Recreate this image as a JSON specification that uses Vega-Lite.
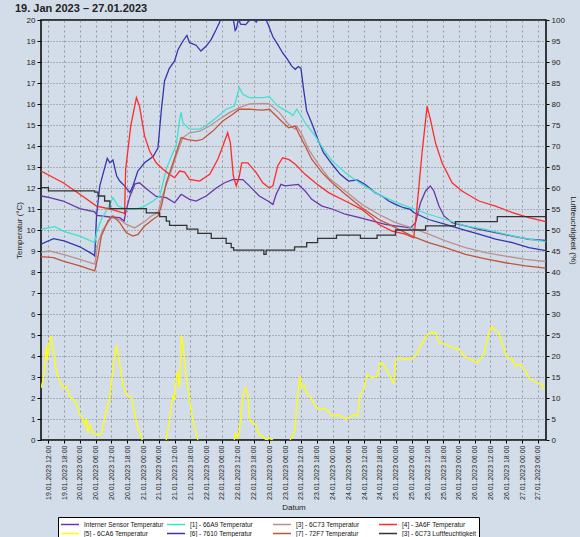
{
"$schema":"https://vega.github.io/schema/vega-lite/v6.json",
"autosize":{"type":"none"},
"padding":{"left":41,"top":20,"right":34,"bottom":97},
"width":505,"height":420,
"background":"#d3dde9",
"title":{"text":"19. Jan 2023 – 27.01.2023","anchor":"start","frame":"group","dx":-26,"offset":2,"fontSize":11,"fontWeight":"bold","font":"Liberation Sans","color":"#222"},
"config":{
"font":"Liberation Sans",
"view":{"stroke":"#000","strokeWidth":1.5},
"axis":{"labelFontSize":8,"titleFontSize":8,"labelColor":"#222","titleColor":"#222","titleFontWeight":"normal","tickColor":"#000","domain":false},
"legend":{"direction":"horizontal","columns":4,"fillColor":"#ffffff","strokeColor":"#000","padding":2,"symbolType":"M-1,0H3","symbolSize":81,"symbolStrokeWidth":1.5,"labelFontSize":6.5,"labelColor":"#111","rowPadding":0,"columnPadding":0,"labelOffset":13}
},
"data":{"values":[
{"s":"6","t":"2023-01-19T09:15","v":9.32},{"s":"6","t":"2023-01-19T14:00","v":9.59},{"s":"6","t":"2023-01-19T18:00","v":9.48},{"s":"6","t":"2023-01-20T00:00","v":9.2},{"s":"6","t":"2023-01-20T05:00","v":8.84},{"s":"6","t":"2023-01-20T05:40","v":8.76},{"s":"6","t":"2023-01-20T06:20","v":10.67},{"s":"6","t":"2023-01-20T07:35","v":12.1},{"s":"6","t":"2023-01-20T10:25","v":13.41},{"s":"6","t":"2023-01-20T11:25","v":13.2},{"s":"6","t":"2023-01-20T12:35","v":13.33},{"s":"6","t":"2023-01-20T14:00","v":12.57},{"s":"6","t":"2023-01-20T15:10","v":12.33},{"s":"6","t":"2023-01-20T17:00","v":12.1},{"s":"6","t":"2023-01-20T19:00","v":11.78},{"s":"6","t":"2023-01-20T20:10","v":12.1},{"s":"6","t":"2023-01-20T22:00","v":12.8},{"s":"6","t":"2023-01-21T00:35","v":13.2},{"s":"6","t":"2023-01-21T03:50","v":13.5},{"s":"6","t":"2023-01-21T05:40","v":13.9},{"s":"6","t":"2023-01-21T07:00","v":15.75},{"s":"6","t":"2023-01-21T08:10","v":17.1},{"s":"6","t":"2023-01-21T10:00","v":17.7},{"s":"6","t":"2023-01-21T12:00","v":18.05},{"s":"6","t":"2023-01-21T13:20","v":18.6},{"s":"6","t":"2023-01-21T15:10","v":19.0},{"s":"6","t":"2023-01-21T16:40","v":19.27},{"s":"6","t":"2023-01-21T17:40","v":18.92},{"s":"6","t":"2023-01-21T20:10","v":18.8},{"s":"6","t":"2023-01-21T22:00","v":18.52},{"s":"6","t":"2023-01-22T00:00","v":18.76},{"s":"6","t":"2023-01-22T01:55","v":19.08},{"s":"6","t":"2023-01-22T03:50","v":19.56},{"s":"6","t":"2023-01-22T05:00","v":19.87},{"s":"6","t":"2023-01-22T06:00","v":20.2},{"s":"6","t":"2023-01-22T10:00","v":20.3},{"s":"6","t":"2023-01-22T11:00","v":19.5},{"s":"6","t":"2023-01-22T11:30","v":19.6},{"s":"6","t":"2023-01-22T12:20","v":20.1},{"s":"6","t":"2023-01-22T13:00","v":19.8},{"s":"6","t":"2023-01-22T15:00","v":19.78},{"s":"6","t":"2023-01-22T16:30","v":20.0},{"s":"6","t":"2023-01-22T17:30","v":20.2},{"s":"6","t":"2023-01-22T19:00","v":19.9},{"s":"6","t":"2023-01-22T20:30","v":20.2},{"s":"6","t":"2023-01-22T22:00","v":20.2},{"s":"6","t":"2023-01-22T23:30","v":19.8},{"s":"6","t":"2023-01-23T01:20","v":19.2},{"s":"6","t":"2023-01-23T03:10","v":18.84},{"s":"6","t":"2023-01-23T05:00","v":18.44},{"s":"6","t":"2023-01-23T07:00","v":18.1},{"s":"6","t":"2023-01-23T08:30","v":17.8},{"s":"6","t":"2023-01-23T09:50","v":17.65},{"s":"6","t":"2023-01-23T11:00","v":17.78},{"s":"6","t":"2023-01-23T12:00","v":17.7},{"s":"6","t":"2023-01-23T13:00","v":16.7},{"s":"6","t":"2023-01-23T14:10","v":15.67},{"s":"6","t":"2023-01-23T16:05","v":15.1},{"s":"6","t":"2023-01-23T18:40","v":14.24},{"s":"6","t":"2023-01-23T20:35","v":13.68},{"s":"6","t":"2023-01-23T23:50","v":13.13},{"s":"6","t":"2023-01-24T02:55","v":12.65},{"s":"6","t":"2023-01-24T06:05","v":12.33},{"s":"6","t":"2023-01-24T09:20","v":12.38},{"s":"6","t":"2023-01-24T12:25","v":12.17},{"s":"6","t":"2023-01-24T16:10","v":11.78},{"s":"6","t":"2023-01-24T18:50","v":11.62},{"s":"6","t":"2023-01-24T21:20","v":11.38},{"s":"6","t":"2023-01-24T23:55","v":11.22},{"s":"6","t":"2023-01-25T03:00","v":11.06},{"s":"6","t":"2023-01-25T05:35","v":10.98},{"s":"6","t":"2023-01-25T06:50","v":10.83},{"s":"6","t":"2023-01-25T12:30","v":10.5},{"s":"6","t":"2023-01-25T18:55","v":10.27},{"s":"6","t":"2023-01-26T01:10","v":10.03},{"s":"6","t":"2023-01-26T07:35","v":9.8},{"s":"6","t":"2023-01-26T13:55","v":9.56},{"s":"6","t":"2023-01-26T20:20","v":9.4},{"s":"6","t":"2023-01-27T02:35","v":9.16},{"s":"6","t":"2023-01-27T09:00","v":9.02},

{"s":"I","t":"2023-01-19T09:15","v":11.62},{"s":"I","t":"2023-01-19T12:35","v":11.54},{"s":"I","t":"2023-01-19T17:40","v":11.38},{"s":"I","t":"2023-01-20T00:00","v":11.02},{"s":"I","t":"2023-01-20T05:40","v":10.86},{"s":"I","t":"2023-01-20T06:30","v":10.7},{"s":"I","t":"2023-01-20T11:25","v":10.62},{"s":"I","t":"2023-01-20T15:10","v":10.59},{"s":"I","t":"2023-01-20T16:50","v":10.43},{"s":"I","t":"2023-01-20T17:30","v":10.9},{"s":"I","t":"2023-01-20T19:00","v":11.6},{"s":"I","t":"2023-01-20T21:00","v":12.2},{"s":"I","t":"2023-01-20T22:40","v":12.25},{"s":"I","t":"2023-01-21T01:30","v":11.94},{"s":"I","t":"2023-01-21T05:00","v":11.6},{"s":"I","t":"2023-01-21T08:50","v":11.54},{"s":"I","t":"2023-01-21T12:00","v":11.3},{"s":"I","t":"2023-01-21T14:30","v":11.7},{"s":"I","t":"2023-01-21T17:40","v":11.46},{"s":"I","t":"2023-01-21T20:10","v":11.38},{"s":"I","t":"2023-01-22T00:00","v":11.62},{"s":"I","t":"2023-01-22T03:50","v":12.0},{"s":"I","t":"2023-01-22T07:00","v":12.25},{"s":"I","t":"2023-01-22T10:00","v":12.4},{"s":"I","t":"2023-01-22T13:55","v":12.4},{"s":"I","t":"2023-01-22T16:25","v":12.1},{"s":"I","t":"2023-01-22T20:10","v":11.62},{"s":"I","t":"2023-01-22T23:25","v":11.38},{"s":"I","t":"2023-01-23T01:20","v":11.22},{"s":"I","t":"2023-01-23T02:35","v":11.7},{"s":"I","t":"2023-01-23T04:25","v":12.17},{"s":"I","t":"2023-01-23T06:00","v":12.1},{"s":"I","t":"2023-01-23T11:00","v":12.17},{"s":"I","t":"2023-01-23T13:35","v":11.86},{"s":"I","t":"2023-01-23T16:05","v":11.46},{"s":"I","t":"2023-01-23T20:00","v":11.14},{"s":"I","t":"2023-01-23T23:50","v":11.0},{"s":"I","t":"2023-01-24T04:50","v":10.75},{"s":"I","t":"2023-01-24T09:55","v":10.6},{"s":"I","t":"2023-01-24T15:00","v":10.43},{"s":"I","t":"2023-01-24T20:00","v":10.27},{"s":"I","t":"2023-01-24T23:55","v":10.2},{"s":"I","t":"2023-01-25T05:35","v":10.1},{"s":"I","t":"2023-01-25T07:30","v":10.35},{"s":"I","t":"2023-01-25T09:25","v":11.3},{"s":"I","t":"2023-01-25T11:20","v":11.86},{"s":"I","t":"2023-01-25T13:10","v":12.1},{"s":"I","t":"2023-01-25T14:30","v":11.86},{"s":"I","t":"2023-01-25T16:25","v":11.14},{"s":"I","t":"2023-01-25T18:20","v":10.67},{"s":"I","t":"2023-01-25T21:25","v":10.35},{"s":"I","t":"2023-01-26T02:30","v":10.2},{"s":"I","t":"2023-01-26T07:35","v":10.03},{"s":"I","t":"2023-01-26T13:55","v":9.87},{"s":"I","t":"2023-01-26T20:20","v":9.71},{"s":"I","t":"2023-01-27T02:35","v":9.56},{"s":"I","t":"2023-01-27T09:00","v":9.5},

{"s":"1","t":"2023-01-19T09:15","v":10.03},{"s":"1","t":"2023-01-19T12:00","v":10.1},{"s":"1","t":"2023-01-19T14:30","v":10.16},{"s":"1","t":"2023-01-19T17:40","v":9.95},{"s":"1","t":"2023-01-20T00:00","v":9.71},{"s":"1","t":"2023-01-20T05:40","v":9.4},{"s":"1","t":"2023-01-20T06:20","v":9.87},{"s":"1","t":"2023-01-20T08:10","v":10.5},{"s":"1","t":"2023-01-20T10:40","v":11.06},{"s":"1","t":"2023-01-20T12:35","v":11.54},{"s":"1","t":"2023-01-20T14:30","v":11.14},{"s":"1","t":"2023-01-20T17:40","v":11.0},{"s":"1","t":"2023-01-20T21:30","v":11.0},{"s":"1","t":"2023-01-21T00:35","v":11.14},{"s":"1","t":"2023-01-21T03:50","v":11.38},{"s":"1","t":"2023-01-21T06:20","v":11.62},{"s":"1","t":"2023-01-21T07:35","v":12.25},{"s":"1","t":"2023-01-21T08:50","v":12.9},{"s":"1","t":"2023-01-21T11:25","v":13.7},{"s":"1","t":"2023-01-21T12:35","v":14.0},{"s":"1","t":"2023-01-21T13:55","v":15.27},{"s":"1","t":"2023-01-21T14:30","v":15.6},{"s":"1","t":"2023-01-21T15:10","v":15.1},{"s":"1","t":"2023-01-21T17:40","v":14.8},{"s":"1","t":"2023-01-21T21:30","v":14.8},{"s":"1","t":"2023-01-22T00:35","v":15.03},{"s":"1","t":"2023-01-22T03:50","v":15.35},{"s":"1","t":"2023-01-22T07:35","v":15.75},{"s":"1","t":"2023-01-22T10:40","v":15.9},{"s":"1","t":"2023-01-22T12:35","v":16.78},{"s":"1","t":"2023-01-22T13:55","v":16.46},{"s":"1","t":"2023-01-22T16:25","v":16.3},{"s":"1","t":"2023-01-22T21:30","v":16.3},{"s":"1","t":"2023-01-23T00:00","v":16.35},{"s":"1","t":"2023-01-23T03:10","v":15.9},{"s":"1","t":"2023-01-23T07:20","v":15.6},{"s":"1","t":"2023-01-23T09:00","v":15.46},{"s":"1","t":"2023-01-23T10:25","v":15.75},{"s":"1","t":"2023-01-23T11:40","v":15.5},{"s":"1","t":"2023-01-23T14:10","v":15.0},{"s":"1","t":"2023-01-23T17:25","v":14.48},{"s":"1","t":"2023-01-23T20:35","v":13.84},{"s":"1","t":"2023-01-23T23:50","v":13.29},{"s":"1","t":"2023-01-24T04:50","v":12.73},{"s":"1","t":"2023-01-24T11:10","v":12.17},{"s":"1","t":"2023-01-24T17:30","v":11.7},{"s":"1","t":"2023-01-24T23:55","v":11.33},{"s":"1","t":"2023-01-25T06:10","v":11.03},{"s":"1","t":"2023-01-25T12:30","v":10.75},{"s":"1","t":"2023-01-25T18:55","v":10.5},{"s":"1","t":"2023-01-26T02:30","v":10.2},{"s":"1","t":"2023-01-26T10:05","v":10.03},{"s":"1","t":"2023-01-26T17:40","v":9.8},{"s":"1","t":"2023-01-27T01:20","v":9.59},{"s":"1","t":"2023-01-27T09:00","v":9.45},

{"s":"4","t":"2023-01-19T09:15","v":12.81},{"s":"4","t":"2023-01-19T17:40","v":12.25},{"s":"4","t":"2023-01-20T00:00","v":11.7},{"s":"4","t":"2023-01-20T06:20","v":11.14},{"s":"4","t":"2023-01-20T11:25","v":11.0},{"s":"4","t":"2023-01-20T17:00","v":10.79},{"s":"4","t":"2023-01-20T17:25","v":12.9},{"s":"4","t":"2023-01-20T19:20","v":14.95},{"s":"4","t":"2023-01-20T21:30","v":16.3},{"s":"4","t":"2023-01-20T22:40","v":15.9},{"s":"4","t":"2023-01-21T00:35","v":14.48},{"s":"4","t":"2023-01-21T02:30","v":13.76},{"s":"4","t":"2023-01-21T05:00","v":13.2},{"s":"4","t":"2023-01-21T07:35","v":12.89},{"s":"4","t":"2023-01-21T10:05","v":12.65},{"s":"4","t":"2023-01-21T12:00","v":12.49},{"s":"4","t":"2023-01-21T13:55","v":12.81},{"s":"4","t":"2023-01-21T15:50","v":12.76},{"s":"4","t":"2023-01-21T17:40","v":12.41},{"s":"4","t":"2023-01-21T21:30","v":12.33},{"s":"4","t":"2023-01-22T01:20","v":12.65},{"s":"4","t":"2023-01-22T04:25","v":13.37},{"s":"4","t":"2023-01-22T06:20","v":14.0},{"s":"4","t":"2023-01-22T08:10","v":14.63},{"s":"4","t":"2023-01-22T09:10","v":14.16},{"s":"4","t":"2023-01-22T10:20","v":12.57},{"s":"4","t":"2023-01-22T11:25","v":12.1},{"s":"4","t":"2023-01-22T12:35","v":12.57},{"s":"4","t":"2023-01-22T13:30","v":13.2},{"s":"4","t":"2023-01-22T15:50","v":13.2},{"s":"4","t":"2023-01-22T19:00","v":12.73},{"s":"4","t":"2023-01-22T21:30","v":12.25},{"s":"4","t":"2023-01-23T00:00","v":12.0},{"s":"4","t":"2023-01-23T01:20","v":12.1},{"s":"4","t":"2023-01-23T03:10","v":13.05},{"s":"4","t":"2023-01-23T05:00","v":13.44},{"s":"4","t":"2023-01-23T07:30","v":13.35},{"s":"4","t":"2023-01-23T09:50","v":13.13},{"s":"4","t":"2023-01-23T13:35","v":12.65},{"s":"4","t":"2023-01-23T17:25","v":12.25},{"s":"4","t":"2023-01-23T22:30","v":11.78},{"s":"4","t":"2023-01-24T04:50","v":11.38},{"s":"4","t":"2023-01-24T11:10","v":10.98},{"s":"4","t":"2023-01-24T15:00","v":10.59},{"s":"4","t":"2023-01-24T17:30","v":10.27},{"s":"4","t":"2023-01-24T22:35","v":9.95},{"s":"4","t":"2023-01-25T03:40","v":9.8},{"s":"4","t":"2023-01-25T06:50","v":9.63},{"s":"4","t":"2023-01-25T07:30","v":10.35},{"s":"4","t":"2023-01-25T08:50","v":12.1},{"s":"4","t":"2023-01-25T10:00","v":13.68},{"s":"4","t":"2023-01-25T11:55","v":15.9},{"s":"4","t":"2023-01-25T13:10","v":15.27},{"s":"4","t":"2023-01-25T15:05","v":14.16},{"s":"4","t":"2023-01-25T17:35","v":13.2},{"s":"4","t":"2023-01-25T21:25","v":12.25},{"s":"4","t":"2023-01-26T01:10","v":11.86},{"s":"4","t":"2023-01-26T07:35","v":11.38},{"s":"4","t":"2023-01-26T13:55","v":11.14},{"s":"4","t":"2023-01-26T20:20","v":10.83},{"s":"4","t":"2023-01-27T02:35","v":10.59},{"s":"4","t":"2023-01-27T09:00","v":10.4},

{"s":"3","t":"2023-01-19T09:15","v":8.95},{"s":"3","t":"2023-01-19T12:35","v":9.0},{"s":"3","t":"2023-01-19T17:40","v":8.84},{"s":"3","t":"2023-01-20T00:00","v":8.6},{"s":"3","t":"2023-01-20T05:40","v":8.37},{"s":"3","t":"2023-01-20T06:55","v":9.4},{"s":"3","t":"2023-01-20T08:50","v":10.03},{"s":"3","t":"2023-01-20T12:00","v":10.59},{"s":"3","t":"2023-01-20T15:10","v":10.5},{"s":"3","t":"2023-01-20T17:40","v":10.27},{"s":"3","t":"2023-01-20T20:50","v":10.1},{"s":"3","t":"2023-01-21T00:00","v":10.35},{"s":"3","t":"2023-01-21T03:10","v":10.67},{"s":"3","t":"2023-01-21T05:40","v":10.83},{"s":"3","t":"2023-01-21T07:35","v":11.7},{"s":"3","t":"2023-01-21T10:05","v":12.57},{"s":"3","t":"2023-01-21T12:35","v":13.52},{"s":"3","t":"2023-01-21T15:10","v":14.4},{"s":"3","t":"2023-01-21T17:40","v":14.63},{"s":"3","t":"2023-01-21T21:30","v":14.71},{"s":"3","t":"2023-01-22T01:20","v":14.95},{"s":"3","t":"2023-01-22T05:00","v":15.27},{"s":"3","t":"2023-01-22T08:50","v":15.59},{"s":"3","t":"2023-01-22T12:35","v":15.83},{"s":"3","t":"2023-01-22T16:25","v":16.0},{"s":"3","t":"2023-01-22T21:30","v":16.03},{"s":"3","t":"2023-01-23T00:00","v":16.0},{"s":"3","t":"2023-01-23T03:50","v":15.59},{"s":"3","t":"2023-01-23T07:20","v":15.03},{"s":"3","t":"2023-01-23T09:50","v":14.8},{"s":"3","t":"2023-01-23T10:25","v":14.95},{"s":"3","t":"2023-01-23T12:20","v":14.56},{"s":"3","t":"2023-01-23T14:55","v":13.84},{"s":"3","t":"2023-01-23T18:40","v":13.13},{"s":"3","t":"2023-01-23T22:30","v":12.49},{"s":"3","t":"2023-01-24T04:50","v":11.86},{"s":"3","t":"2023-01-24T11:10","v":11.22},{"s":"3","t":"2023-01-24T17:30","v":10.75},{"s":"3","t":"2023-01-24T23:55","v":10.35},{"s":"3","t":"2023-01-25T06:10","v":10.1},{"s":"3","t":"2023-01-25T12:30","v":9.8},{"s":"3","t":"2023-01-25T18:55","v":9.48},{"s":"3","t":"2023-01-26T02:30","v":9.16},{"s":"3","t":"2023-01-26T10:05","v":8.92},{"s":"3","t":"2023-01-26T17:40","v":8.76},{"s":"3","t":"2023-01-27T01:20","v":8.6},{"s":"3","t":"2023-01-27T09:00","v":8.5},

{"s":"7","t":"2023-01-19T09:15","v":8.73},{"s":"7","t":"2023-01-19T14:00","v":8.68},{"s":"7","t":"2023-01-19T17:40","v":8.52},{"s":"7","t":"2023-01-20T00:00","v":8.29},{"s":"7","t":"2023-01-20T05:40","v":8.05},{"s":"7","t":"2023-01-20T06:55","v":8.76},{"s":"7","t":"2023-01-20T08:10","v":9.71},{"s":"7","t":"2023-01-20T10:40","v":10.43},{"s":"7","t":"2023-01-20T12:35","v":10.67},{"s":"7","t":"2023-01-20T15:10","v":10.35},{"s":"7","t":"2023-01-20T17:40","v":9.87},{"s":"7","t":"2023-01-20T20:10","v":9.71},{"s":"7","t":"2023-01-20T22:05","v":9.79},{"s":"7","t":"2023-01-21T00:35","v":10.19},{"s":"7","t":"2023-01-21T03:50","v":10.51},{"s":"7","t":"2023-01-21T05:40","v":10.67},{"s":"7","t":"2023-01-21T07:00","v":11.14},{"s":"7","t":"2023-01-21T08:50","v":12.25},{"s":"7","t":"2023-01-21T11:25","v":13.2},{"s":"7","t":"2023-01-21T14:30","v":14.4},{"s":"7","t":"2023-01-21T17:00","v":14.3},{"s":"7","t":"2023-01-21T20:10","v":14.24},{"s":"7","t":"2023-01-21T22:40","v":14.32},{"s":"7","t":"2023-01-22T02:30","v":14.71},{"s":"7","t":"2023-01-22T06:20","v":15.19},{"s":"7","t":"2023-01-22T10:05","v":15.51},{"s":"7","t":"2023-01-22T12:35","v":15.75},{"s":"7","t":"2023-01-22T16:25","v":15.75},{"s":"7","t":"2023-01-22T21:30","v":15.71},{"s":"7","t":"2023-01-23T00:00","v":15.75},{"s":"7","t":"2023-01-23T03:50","v":15.27},{"s":"7","t":"2023-01-23T07:20","v":14.87},{"s":"7","t":"2023-01-23T09:50","v":14.95},{"s":"7","t":"2023-01-23T11:00","v":14.63},{"s":"7","t":"2023-01-23T13:35","v":14.0},{"s":"7","t":"2023-01-23T16:05","v":13.37},{"s":"7","t":"2023-01-23T20:00","v":12.73},{"s":"7","t":"2023-01-23T23:50","v":12.25},{"s":"7","t":"2023-01-24T04:50","v":11.7},{"s":"7","t":"2023-01-24T11:10","v":11.06},{"s":"7","t":"2023-01-24T17:30","v":10.51},{"s":"7","t":"2023-01-24T23:55","v":10.11},{"s":"7","t":"2023-01-25T06:10","v":9.71},{"s":"7","t":"2023-01-25T12:30","v":9.4},{"s":"7","t":"2023-01-25T18:55","v":9.16},{"s":"7","t":"2023-01-26T02:30","v":8.84},{"s":"7","t":"2023-01-26T10:05","v":8.63},{"s":"7","t":"2023-01-26T17:40","v":8.44},{"s":"7","t":"2023-01-27T01:20","v":8.29},{"s":"7","t":"2023-01-27T09:00","v":8.18},

{"s":"5","t":"2023-01-19T09:15","v":2.48},{"s":"5","t":"2023-01-19T10:05","v":2.88},{"s":"5","t":"2023-01-19T10:45","v":3.52},{"s":"5","t":"2023-01-19T11:05","v":4.16},{"s":"5","t":"2023-01-19T11:20","v":4.5},{"s":"5","t":"2023-01-19T11:40","v":3.84},{"s":"5","t":"2023-01-19T12:25","v":4.64},{"s":"5","t":"2023-01-19T13:00","v":4.96},{"s":"5","t":"2023-01-19T13:55","v":4.32},{"s":"5","t":"2023-01-19T15:10","v":3.2},{"s":"5","t":"2023-01-19T16:25","v":2.8},{"s":"5","t":"2023-01-19T17:40","v":2.48},{"s":"5","t":"2023-01-19T18:55","v":2.53},{"s":"5","t":"2023-01-19T20:10","v":2.08},{"s":"5","t":"2023-01-19T21:30","v":1.92},{"s":"5","t":"2023-01-19T22:45","v":1.76},{"s":"5","t":"2023-01-20T00:00","v":1.2},{"s":"5","t":"2023-01-20T01:15","v":0.96},{"s":"5","t":"2023-01-20T01:55","v":0.72},{"s":"5","t":"2023-01-20T02:30","v":1.04},{"s":"5","t":"2023-01-20T03:10","v":0.32},{"s":"5","t":"2023-01-20T03:50","v":0.72},{"s":"5","t":"2023-01-20T05:05","v":0.32},{"s":"5","t":"2023-01-20T06:20","v":0.24},{"s":"5","t":"2023-01-20T08:10","v":0.29},{"s":"5","t":"2023-01-20T08:50","v":0.64},{"s":"5","t":"2023-01-20T10:05","v":1.44},{"s":"5","t":"2023-01-20T11:25","v":2.08},{"s":"5","t":"2023-01-20T12:25","v":3.2},{"s":"5","t":"2023-01-20T13:15","v":4.08},{"s":"5","t":"2023-01-20T13:55","v":4.51},{"s":"5","t":"2023-01-20T14:55","v":3.84},{"s":"5","t":"2023-01-20T15:50","v":3.04},{"s":"5","t":"2023-01-20T17:05","v":2.32},{"s":"5","t":"2023-01-20T18:20","v":2.08},{"s":"5","t":"2023-01-20T19:35","v":2.05},{"s":"5","t":"2023-01-20T20:50","v":1.28},{"s":"5","t":"2023-01-20T22:05","v":0.56},{"s":"5","t":"2023-01-20T23:25","v":0.16},{"s":"5","t":"2023-01-21T00:35","v":-0.5},{"s":"5","t":"2023-01-21T07:35","v":-0.5},{"s":"5","t":"2023-01-21T08:50","v":0.0},{"s":"5","t":"2023-01-21T10:05","v":0.96},{"s":"5","t":"2023-01-21T10:40","v":1.6},{"s":"5","t":"2023-01-21T11:25","v":2.08},{"s":"5","t":"2023-01-21T12:00","v":1.92},{"s":"5","t":"2023-01-21T12:35","v":2.88},{"s":"5","t":"2023-01-21T13:15","v":3.28},{"s":"5","t":"2023-01-21T13:55","v":2.48},{"s":"5","t":"2023-01-21T14:30","v":4.99},{"s":"5","t":"2023-01-21T15:10","v":4.56},{"s":"5","t":"2023-01-21T16:25","v":3.04},{"s":"5","t":"2023-01-21T17:40","v":1.92},{"s":"5","t":"2023-01-21T18:55","v":0.96},{"s":"5","t":"2023-01-21T20:10","v":0.32},{"s":"5","t":"2023-01-21T20:50","v":0.0},{"s":"5","t":"2023-01-21T21:30","v":-0.5},{"s":"5","t":"2023-01-22T10:05","v":-0.5},{"s":"5","t":"2023-01-22T11:05","v":0.32},{"s":"5","t":"2023-01-22T12:00","v":0.1},{"s":"5","t":"2023-01-22T12:35","v":0.4},{"s":"5","t":"2023-01-22T13:55","v":2.08},{"s":"5","t":"2023-01-22T14:55","v":2.48},{"s":"5","t":"2023-01-22T15:50","v":2.16},{"s":"5","t":"2023-01-22T16:25","v":1.04},{"s":"5","t":"2023-01-22T17:40","v":0.8},{"s":"5","t":"2023-01-22T18:55","v":0.72},{"s":"5","t":"2023-01-22T20:10","v":0.24},{"s":"5","t":"2023-01-22T21:30","v":0.16},{"s":"5","t":"2023-01-22T22:45","v":0.0},{"s":"5","t":"2023-01-23T00:00","v":0.08},{"s":"5","t":"2023-01-23T01:15","v":0.0},{"s":"5","t":"2023-01-23T03:00","v":-0.3},{"s":"5","t":"2023-01-23T07:00","v":-0.3},{"s":"5","t":"2023-01-23T07:55","v":0.0},{"s":"5","t":"2023-01-23T09:35","v":0.4},{"s":"5","t":"2023-01-23T10:50","v":2.24},{"s":"5","t":"2023-01-23T11:40","v":3.04},{"s":"5","t":"2023-01-23T12:20","v":2.48},{"s":"5","t":"2023-01-23T13:25","v":2.59},{"s":"5","t":"2023-01-23T14:15","v":2.16},{"s":"5","t":"2023-01-23T15:30","v":2.08},{"s":"5","t":"2023-01-23T17:25","v":1.6},{"s":"5","t":"2023-01-23T19:20","v":1.44},{"s":"5","t":"2023-01-23T20:35","v":1.52},{"s":"5","t":"2023-01-23T22:30","v":1.36},{"s":"5","t":"2023-01-23T23:50","v":1.12},{"s":"5","t":"2023-01-24T02:20","v":1.2},{"s":"5","t":"2023-01-24T04:50","v":0.99},{"s":"5","t":"2023-01-24T06:45","v":1.12},{"s":"5","t":"2023-01-24T08:35","v":1.2},{"s":"5","t":"2023-01-24T09:30","v":1.12},{"s":"5","t":"2023-01-24T10:30","v":2.16},{"s":"5","t":"2023-01-24T11:50","v":2.4},{"s":"5","t":"2023-01-24T13:05","v":3.12},{"s":"5","t":"2023-01-24T15:00","v":2.96},{"s":"5","t":"2023-01-24T16:55","v":3.04},{"s":"5","t":"2023-01-24T18:10","v":3.68},{"s":"5","t":"2023-01-24T19:25","v":3.6},{"s":"5","t":"2023-01-24T21:20","v":3.12},{"s":"5","t":"2023-01-24T23:15","v":2.72},{"s":"5","t":"2023-01-24T23:55","v":3.76},{"s":"5","t":"2023-01-25T01:05","v":3.92},{"s":"5","t":"2023-01-25T03:00","v":3.84},{"s":"5","t":"2023-01-25T05:35","v":3.87},{"s":"5","t":"2023-01-25T07:30","v":4.0},{"s":"5","t":"2023-01-25T09:25","v":4.48},{"s":"5","t":"2023-01-25T11:20","v":4.88},{"s":"5","t":"2023-01-25T13:10","v":5.12},{"s":"5","t":"2023-01-25T15:05","v":5.12},{"s":"5","t":"2023-01-25T16:25","v":4.64},{"s":"5","t":"2023-01-25T18:55","v":4.56},{"s":"5","t":"2023-01-25T21:25","v":4.4},{"s":"5","t":"2023-01-26T00:00","v":4.32},{"s":"5","t":"2023-01-26T01:55","v":4.0},{"s":"5","t":"2023-01-26T04:25","v":3.84},{"s":"5","t":"2023-01-26T07:00","v":3.68},{"s":"5","t":"2023-01-26T09:30","v":4.08},{"s":"5","t":"2023-01-26T10:45","v":4.8},{"s":"5","t":"2023-01-26T12:25","v":5.44},{"s":"5","t":"2023-01-26T13:55","v":5.2},{"s":"5","t":"2023-01-26T15:10","v":5.12},{"s":"5","t":"2023-01-26T16:30","v":4.56},{"s":"5","t":"2023-01-26T18:25","v":3.92},{"s":"5","t":"2023-01-26T20:20","v":3.84},{"s":"5","t":"2023-01-26T21:30","v":3.52},{"s":"5","t":"2023-01-26T23:25","v":3.6},{"s":"5","t":"2023-01-27T01:20","v":3.28},{"s":"5","t":"2023-01-27T02:35","v":2.96},{"s":"5","t":"2023-01-27T05:10","v":2.75},{"s":"5","t":"2023-01-27T07:40","v":2.64},{"s":"5","t":"2023-01-27T08:20","v":2.4},

{"s":"h","t":"2023-01-19T09:15","v":60.1},{"s":"h","t":"2023-01-19T12:05","v":59.3},{"s":"h","t":"2023-01-20T05:40","v":59.0},{"s":"h","t":"2023-01-20T06:55","v":58.1},{"s":"h","t":"2023-01-20T09:25","v":56.9},{"s":"h","t":"2023-01-20T11:25","v":55.1},{"s":"h","t":"2023-01-21T01:15","v":54.1},{"s":"h","t":"2023-01-21T06:20","v":53.2},{"s":"h","t":"2023-01-21T08:50","v":52.1},{"s":"h","t":"2023-01-21T10:05","v":51.1},{"s":"h","t":"2023-01-21T16:40","v":50.2},{"s":"h","t":"2023-01-21T20:50","v":49.2},{"s":"h","t":"2023-01-22T01:55","v":48.0},{"s":"h","t":"2023-01-22T07:35","v":46.8},{"s":"h","t":"2023-01-22T09:30","v":45.8},{"s":"h","t":"2023-01-22T10:25","v":45.2},{"s":"h","t":"2023-01-22T21:55","v":44.2},{"s":"h","t":"2023-01-22T22:45","v":45.2},{"s":"h","t":"2023-01-23T09:35","v":46.0},{"s":"h","t":"2023-01-23T14:10","v":47.0},{"s":"h","t":"2023-01-23T18:20","v":48.0},{"s":"h","t":"2023-01-24T01:30","v":48.8},{"s":"h","t":"2023-01-24T10:35","v":48.0},{"s":"h","t":"2023-01-24T16:55","v":48.8},{"s":"h","t":"2023-01-24T23:55","v":50.0},{"s":"h","t":"2023-01-25T11:20","v":51.0},{"s":"h","t":"2023-01-25T22:40","v":52.0},{"s":"h","t":"2023-01-26T14:35","v":53.2},{"s":"h","t":"2023-01-27T09:05","v":53.2}
]},
"encoding":{
"x":{"field":"t","type":"temporal",
"scale":{"nice":false},
"axis":{"title":"Datum","format":"%d.%m.%Y %H:%M","labelAngle":270,"tickCount":32,"labelOverlap":false,"labelFontSize":7,"labelPadding":2,"tickSize":3,"grid":true,"gridDash":[2,3],"gridColor":"#808080","gridOpacity":0.75,"titlePadding":4,"labelFlush":false}},
"color":{"field":"s","type":"nominal",
"scale":{"domain":["I","1","3","4","5","6","7","h"],"range":["#6a35a8","#40e0d0","#bc8f8f","#ff2a2a","#ffff00","#3434b0","#c0553a","#333333"]},
"legend":{"title":null,"orient":"none","legendX":17,"legendY":497,"gridAlign":"all",
"labelExpr":"datum.value == 'I' ? 'Interner Sensor Temperatur' : datum.value == '1' ? '[1] - 66A9 Temperatur' : datum.value == '3' ? '[3] - 6C73 Temperatur' : datum.value == '4' ? '[4] - 3A6F Temperatur' : datum.value == '5' ? '[5] - 6CA6 Temperatur' : datum.value == '6' ? '[6] - 7610 Temperatur' : datum.value == '7' ? '[7] - 72F7 Temperatur' : '[3] - 6C73 Luftfeuchtigkeit'"}}
},
"layer":[
{"transform":[{"filter":"datum.s != 'h'"}],
"mark":{"type":"line","clip":true,"strokeWidth":1.3},
"encoding":{"y":{"field":"v","type":"quantitative","scale":{"domain":[0,20],"nice":false},
"axis":{"title":"Temperatur (°C)","values":[0,1,2,3,4,5,6,7,8,9,10,11,12,13,14,15,16,17,18,19,20],"grid":true,"gridDash":[1,2],"gridColor":"#6a6a6a","gridOpacity":0.8,"tickSize":4,"labelPadding":2,"titlePadding":3}}}},
{"transform":[{"filter":"datum.s == 'h'"}],
"mark":{"type":"line","clip":true,"strokeWidth":1.3,"interpolate":"step-after"},
"encoding":{"y":{"field":"v","type":"quantitative","scale":{"domain":[0,100],"nice":false},
"axis":{"orient":"right","title":"Luftfeuchtigkeit (%)","values":[0,5,10,15,20,25,30,35,40,45,50,55,60,65,70,75,80,85,90,95,100],"grid":false,"tickSize":3,"labelPadding":2,"titlePadding":4}}}}
],
"resolve":{"scale":{"y":"independent"},"axis":{"y":"independent"}}
}
